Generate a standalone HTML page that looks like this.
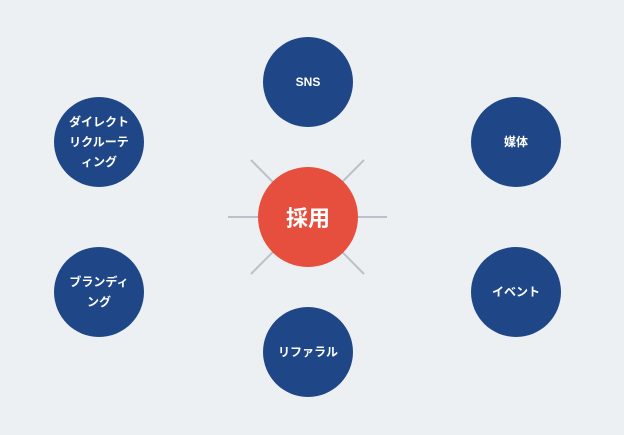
<!DOCTYPE html>
<html><head><meta charset="utf-8"><style>
body{margin:0;width:624px;height:435px;background:#edf0f2;overflow:hidden;font-family:"Liberation Sans","Noto Sans CJK JP",sans-serif}
.c{position:absolute;width:90px;height:90px;border-radius:50%;background:#1f4788;color:#fff;font-weight:bold;font-size:12px;line-height:20px;display:flex;align-items:center;justify-content:center;text-align:center}
.m{position:absolute;left:258px;top:167px;width:100px;height:100px;border-radius:50%;background:#e64f3d;color:#fff;font-weight:bold;font-size:22px;display:flex;align-items:center;justify-content:center}
</style></head><body>
<svg width="624" height="435" style="position:absolute;left:0;top:0">
<g stroke="#b9c2ca" stroke-width="2">
<line x1="228" y1="217" x2="387" y2="217"/>
<line x1="251" y1="160" x2="364" y2="274"/>
<line x1="364" y1="160" x2="251" y2="274"/>
</g></svg>
<div class="m">採用</div>
<div class="c" style="left:263px;top:37px">SNS</div>
<div class="c" style="left:471px;top:97px">媒体</div>
<div class="c" style="left:471px;top:247px">イベント</div>
<div class="c" style="left:263px;top:307px">リファラル</div>
<div class="c" style="left:54px;top:247px">ブランディ<br>ング</div>
<div class="c" style="left:54px;top:97px">ダイレクト<br>リクルーテ<br>ィング</div>
</body></html>
